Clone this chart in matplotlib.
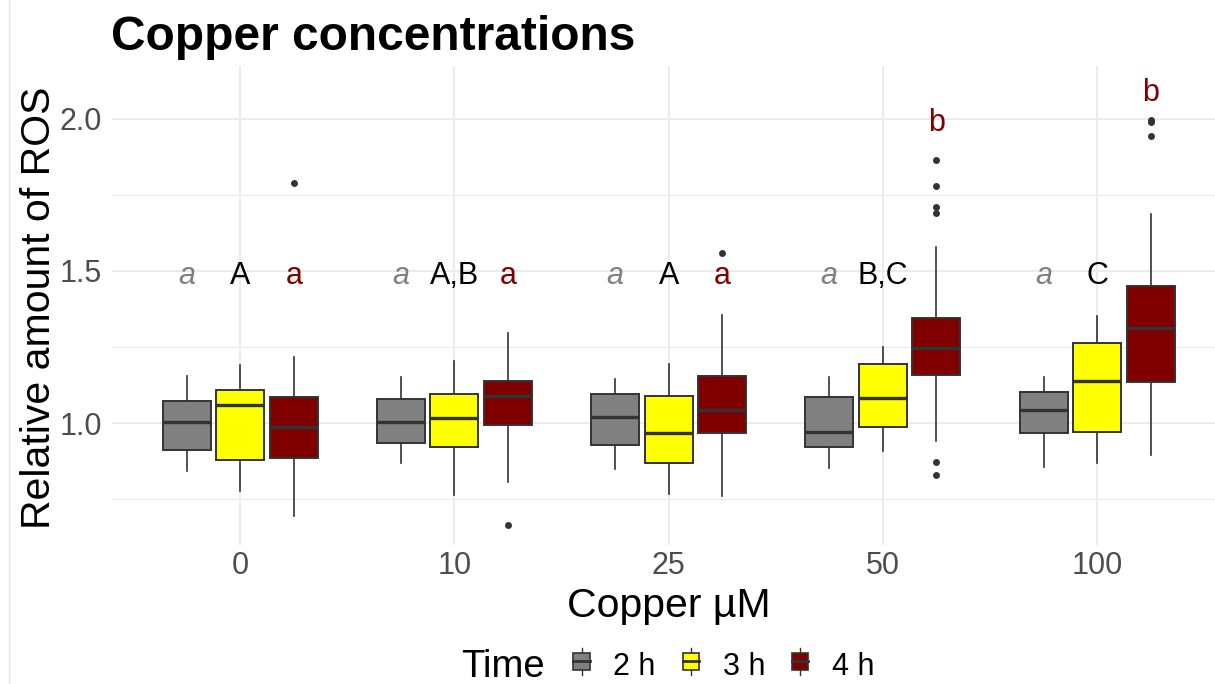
import matplotlib
matplotlib.use('Agg')
import matplotlib.pyplot as plt
from matplotlib.patches import Rectangle
from matplotlib.lines import Line2D

plt.rcParams['font.family'] = ['Liberation Sans', 'DejaVu Sans']

W, H = 1215, 684

categories = ['0', '10', '25', '50', '100']
times = ['2 h', '3 h', '4 h']
fill_colors = ['#808080', '#FFFF00', '#800000']
letter_colors = ['#808080', '#000000', '#800000']
letter_styles = ['italic', 'normal', 'normal']

# per time: whisker low, q1, median, q3, whisker high (one per category)
whislo_2h = [0.841, 0.867, 0.848, 0.852, 0.856]
q1_2h = [0.912, 0.933, 0.929, 0.920, 0.967]
med_2h = [1.002, 1.002, 1.019, 0.969, 1.044]
q3_2h = [1.071, 1.078, 1.095, 1.086, 1.103]
whishi_2h = [1.155, 1.150, 1.146, 1.150, 1.151]
fliers_2h = [[], [], [], [], []]

whislo_3h = [0.776, 0.765, 0.766, 0.908, 0.869]
q1_3h = [0.878, 0.921, 0.869, 0.988, 0.969]
med_3h = [1.059, 1.015, 0.966, 1.082, 1.139]
q3_3h = [1.109, 1.094, 1.088, 1.193, 1.264]
whishi_3h = [1.190, 1.203, 1.193, 1.249, 1.352]
fliers_3h = [[], [], [], [], []]

whislo_4h = [0.694, 0.805, 0.761, 0.942, 0.895]
q1_4h = [0.885, 0.995, 0.968, 1.157, 1.136]
med_4h = [0.986, 1.088, 1.042, 1.248, 1.311]
q3_4h = [1.086, 1.139, 1.155, 1.345, 1.451]
whishi_4h = [1.218, 1.297, 1.354, 1.579, 1.686]
fliers_4h = [[1.79], [0.666], [1.559], [1.865, 1.781, 1.709, 1.692, 0.871, 0.830], [1.998, 1.990, 1.944]]

letters_2h = ['a', 'a', 'a', 'a', 'a']
letters_3h = ['A', 'A,B', 'A', 'B,C', 'C']
letters_4h = ['a', 'a', 'a', 'b', 'b']
letter_y_2h = [1.457, 1.457, 1.457, 1.457, 1.457]
letter_y_3h = [1.457, 1.457, 1.457, 1.457, 1.457]
letter_y_4h = [1.457, 1.457, 1.457, 1.961, 2.060]

series = [
    (whislo_2h, q1_2h, med_2h, q3_2h, whishi_2h, fliers_2h, letters_2h, letter_y_2h),
    (whislo_3h, q1_3h, med_3h, q3_3h, whishi_3h, fliers_3h, letters_3h, letter_y_3h),
    (whislo_4h, q1_4h, med_4h, q3_4h, whishi_4h, fliers_4h, letters_4h, letter_y_4h),
]

fig = plt.figure(figsize=(W / 100, H / 100), dpi=100)
left_px, right_px, top_px, bot_px = 111.7, 1225.6, 66, 545
ax = fig.add_axes([left_px / W, 1 - bot_px / H, (right_px - left_px) / W, (bot_px - top_px) / H])

edge = '#333333'
offsets = [-0.25, 0.0, 0.25]
bw = 0.224
for k, (wl, q1, md, q3, wh, fl, lets, ly) in enumerate(series):
    stats = []
    for i in range(len(categories)):
        stats.append(dict(whislo=wl[i], q1=q1[i], med=md[i], q3=q3[i], whishi=wh[i], fliers=fl[i]))
    pos = [i + offsets[k] for i in range(len(categories))]
    ax.bxp(stats, positions=pos, widths=bw, patch_artist=True, showcaps=False,
           boxprops=dict(facecolor=fill_colors[k], edgecolor=edge, linewidth=1.4),
           medianprops=dict(color=edge, linewidth=2.4, solid_capstyle='butt'),
           whiskerprops=dict(color=edge, linewidth=1.2),
           flierprops=dict(marker='o', markerfacecolor=edge, markeredgecolor='none', markersize=5),
           manage_ticks=False, zorder=3)
    for i in range(len(categories)):
        ax.text(pos[i], ly[i], lets[i], ha='center', va='baseline', fontsize=22,
                color=letter_colors[k], fontstyle=letter_styles[k], zorder=4)

ax.set_xlim(-0.6, len(categories) - 0.4)
ax.set_ylim(0.599, 2.174)
ax.set_xticks(range(len(categories)))
ax.set_xticklabels(categories)
ax.set_yticks([1.0, 1.5, 2.0])
ax.set_yticklabels(['1.0', '1.5', '2.0'])
ax.set_yticks([0.75, 1.25, 1.75], minor=True)
ax.grid(which='major', color='#EBEBEB', linewidth=1.4, zorder=0)
ax.grid(which='minor', axis='y', color='#EBEBEB', linewidth=0.7, zorder=0)
ax.set_axisbelow(True)
for s in ax.spines.values():
    s.set_visible(False)
ax.tick_params(which='both', length=0, labelsize=22, labelcolor='#4D4D4D')
ax.tick_params(axis='x', pad=4)
ax.tick_params(axis='y', pad=7)

# titles
fig.text(111 / W, 1 - 50 / H, 'Copper concentrations', fontsize=34.5, fontweight='bold',
         ha='left', va='baseline')
fig.text((left_px + right_px) / 2 / W, 1 - 617 / H, 'Copper µM', fontsize=29.5,
         ha='center', va='baseline')
fig.text(50 / W, 1 - 308 / H, 'Relative amount of ROS', fontsize=29.5, rotation=90,
         rotation_mode='anchor', ha='center', va='baseline')

# left border line
fig.add_artist(Line2D([9 / W, 9 / W], [0, 1], color='#E5E5E5', linewidth=1))

# legend
lax = fig.add_axes([0, 0, 1, 1], facecolor='none')
lax.set_xlim(0, W)
lax.set_ylim(H, 0)
lax.axis('off')
lax.text(461, 677, 'Time', fontsize=27.5, ha='left', va='baseline')
key_x = [581.7, 691.0, 800.0]
lab_x = [613.3, 722.7, 831.7]
for k in range(3):
    cx = key_x[k]
    lax.add_line(Line2D([cx, cx], [648, 675], color=edge, linewidth=1.0))
    lax.add_patch(Rectangle((cx - 8.3, 652.7), 16.6, 17.3, facecolor=fill_colors[k],
                            edgecolor=edge, linewidth=1.2, zorder=3))
    lax.add_line(Line2D([cx - 8.3, cx + 8.3], [661.3, 661.3], color=edge, linewidth=2.0, zorder=4))
    lax.text(lab_x[k], 675, times[k], fontsize=22, ha='left', va='baseline')

fig.savefig('out.png', dpi=100)
